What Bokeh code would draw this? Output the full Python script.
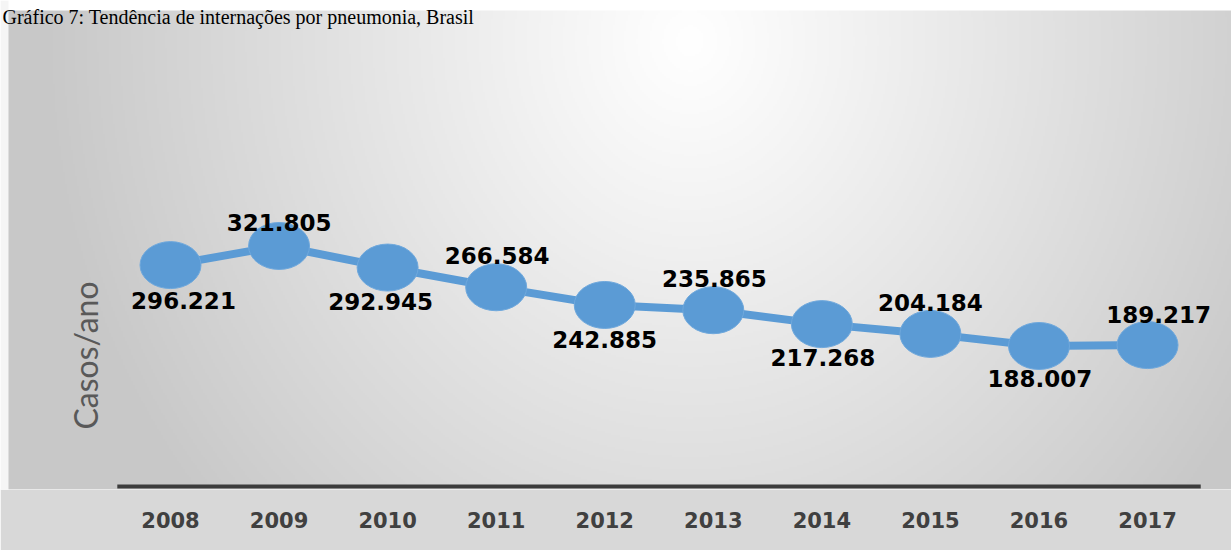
import numpy as np
from bokeh.plotting import figure
from bokeh.models import Range1d, FixedTicker, Label, ColumnDataSource
from bokeh.embed import file_html
from bokeh.resources import INLINE
from bokeh.core.properties import value

# ---------------- data ----------------
anos = [2008, 2009, 2010, 2011, 2012, 2013, 2014, 2015, 2016, 2017]
casos = [296221, 321805, 292945, 266584, 242885, 235865, 217268, 204184, 188007, 189217]
rotulos = ["296.221", "321.805", "292.945", "266.584", "242.885",
           "235.865", "217.268", "204.184", "188.007", "189.217"]
titulo = "Gráfico 7: Tendência de internações por pneumonia, Brasil"
eixo_y = "Casos/ano"

# ---------------- layout (pixels) ----------------
W, H = 1231, 550
BOTTOM = 61
FRAME_H = H - BOTTOM          # frame covers canvas rows 0..489
ZERO_ROW = 486                # canvas row of y = 0
YPP = 1338.0                  # data units per pixel (y)
XPX = 108.56                  # pixels per year
X_FIRST_PX = 170              # canvas column of the first year

x0 = anos[0] - X_FIRST_PX / XPX
x_range = Range1d(x0, x0 + W / XPX)
y_range = Range1d(-(FRAME_H - ZERO_ROW) * YPP, ZERO_ROW * YPP)


def xd(px):
    return x0 + px / XPX


def yd(row):
    return (ZERO_ROW - row) * YPP


p = figure(width=W, height=H, x_range=x_range, y_range=y_range,
           output_backend="svg", toolbar_location=None, y_axis_location=None,
           min_border_left=0, min_border_right=0, min_border_top=0,
           min_border_bottom=BOTTOM)
p.grid.visible = False
p.outline_line_color = None
p.border_fill_color = "#d8d8d8"

# ---------------- background gradient ----------------
step = 2
cols = np.arange(0, W, step) + 0.5
rows = np.arange(0, FRAME_H, step) + 0.5
X, Y = np.meshgrid(cols, rows)
t = np.sqrt(((X - 690.0) / 650.0) ** 2 + ((Y - 40.0) / 720.0) ** 2)
t = np.clip(t, 0, 1)
g = 255 - (255 - 200) * t ** 1.05
g[Y < 10] = 255
g[X < 8] = 245
g = g[::-1].astype(np.uint8)
img = np.empty(g.shape, dtype=np.uint32)
view = img.view(dtype=np.uint8).reshape(g.shape + (4,))
view[..., 0] = g
view[..., 1] = g
view[..., 2] = g
view[..., 3] = 255
p.image_rgba(image=[img], x=x_range.start, y=y_range.start,
             dw=x_range.end - x_range.start, dh=y_range.end - y_range.start,
             level="image")

# ---------------- axis line ----------------
p.line(x=[anos[0] - 0.49, anos[-1] + 0.49], y=[0, 0], line_color="#3c3c3c",
       line_width=4)

# ---------------- series ----------------
dx = [13, 0, -7, 1, 0, 1, 1, 0, 1, 11]
dy = [35, -23, 34, -32, 35, -32, 33, -31, 33, -31]
src = ColumnDataSource(dict(x=anos, y=casos, rotulo=rotulos, dx=dx, dy=dy))

p.line(x="x", y="y", source=src, line_color="#5b9bd5", line_width=8)
p.ellipse(x="x", y="y", width=61, height=47, width_units="screen",
          height_units="screen", source=src, fill_color="#5b9bd5",
          line_color="#6fa8dc", line_width=1)
p.text(x="x", y="y", text="rotulo", x_offset="dx", y_offset="dy", source=src,
       text_align="center", text_baseline="middle",
       text_font=value("DejaVu Sans"), text_font_style="bold",
       text_font_size="23px", text_color="#000000")

# ---------------- x axis ----------------
ax = p.xaxis[0]
ax.ticker = FixedTicker(ticks=anos)
ax.axis_line_color = None
ax.major_tick_line_color = None
ax.minor_tick_line_color = None
ax.major_tick_out = 0
ax.major_label_standoff = 22
ax.major_label_text_font = "DejaVu Sans"
ax.major_label_text_font_style = "bold"
ax.major_label_text_font_size = "21px"
ax.major_label_text_color = "#404040"

# ---------------- texts ----------------
p.add_layout(Label(x=xd(85), y=yd(355), text=eixo_y, angle=np.pi / 2,
                   text_align="center", text_baseline="middle",
                   text_font="Lato", text_font_size="32px",
                   text_color="#595959"))
p.add_layout(Label(x=xd(2), y=yd(16), text=titulo, text_align="left",
                   text_baseline="alphabetic", text_font="Liberation Serif",
                   text_font_size="20px", text_color="#000000"))

open("out.html", "w").write(file_html(p, INLINE))
